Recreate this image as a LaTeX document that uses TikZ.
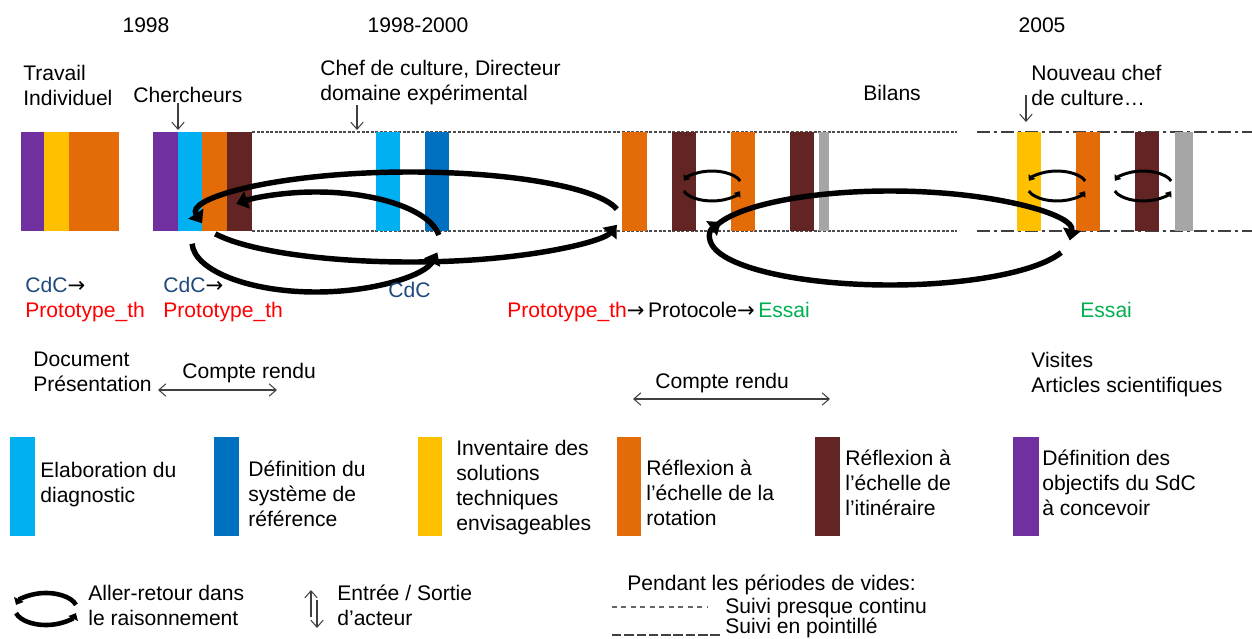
\documentclass[tikz,border=0pt]{standalone}
\usepackage{fontspec}
\setmainfont{Liberation Sans}
\newfontfamily\arrowfont{DejaVu Sans}
\usetikzlibrary{arrows.meta,positioning}

\definecolor{cPurple}{HTML}{7030A0}
\definecolor{cYellow}{HTML}{FFC000}
\definecolor{cOrange}{HTML}{E36C09}
\definecolor{cBrown}{HTML}{632523}
\definecolor{cCyan}{HTML}{00B0F0}
\definecolor{cBlue}{HTML}{0070C0}
\definecolor{cGray}{HTML}{A6A6A6}
\definecolor{cdcBlue}{HTML}{1F497D}
\definecolor{essaiGreen}{HTML}{00B050}

\begin{document}
\begin{tikzpicture}[
    x=0.02cm, y=-0.02cm,
    font=\fontsize{12}{14.2}\selectfont,
    lbl/.style={anchor=north west, inner sep=0pt, align=left},
    ctr/.style={anchor=north, inner sep=0pt},
    actor/.style={draw=black!75, line width=0.6pt, -{Straight Barb[length=4pt,width=7pt]}},
    report/.style={draw=black!75, line width=0.6pt,
                   {Straight Barb[length=4pt,width=7pt]}-{Straight Barb[length=4pt,width=7pt]}},
    suivi/.style={draw=black!70, line width=0.6pt, dash pattern=on 1.7pt off 0.9pt},
    pointille/.style={draw=black!75, line width=0.7pt, dash pattern=on 7.4pt off 2.3pt on 1.7pt off 2.3pt},
    bigloop/.style={line width=3.1pt, -{Triangle[length=6.5pt,width=10pt]}},
    smallloop/.style={line width=1.7pt, -{Triangle[length=3pt,width=4.5pt]}}
]
\useasboundingbox (0,0) rectangle (1252,639);

% 1) follow-up lines during the gaps
\draw[suivi] (252,132) -- (957,132);
\draw[suivi] (252,231) -- (957,231);
\draw[pointille] (977,132) -- (1252,132);
\draw[pointille] (977,231) -- (1252,231);

% 2) timeline bars
\foreach \xa/\xb/\col in {21/44/cPurple, 44/69/cYellow, 69/119/cOrange,
    153/178/cPurple, 178/202/cCyan, 202/227/cOrange, 227/252/cBrown,
    376/400/cCyan, 425/449/cBlue,
    622/647/cOrange, 672/696/cBrown, 731/755/cOrange, 790/814/cBrown, 819/829/cGray,
    1017/1041/cYellow, 1076/1100/cOrange, 1135/1159/cBrown, 1175/1193/cGray}
  \fill[\col] (\xa,132) rectangle (\xb,231);

% 3) years and actors
\node[ctr] (y1998) at (146,17) {1998};
\node[ctr] (y9800) at (418,17) {1998-2000};
\node[ctr] (y2005) at (1042,17) {2005};

\node[lbl] (travail) at (23,65) {Travail\\Individuel};
\node[lbl] (cherch) at (133,87) {Chercheurs};
\node[lbl] (chef) at (320,60) {Chef de culture, Directeur\\domaine expérimental};
\node[lbl] (bilans) at (863,85) {Bilans};
\node[lbl] (nouveau) at (1031,65) {Nouveau chef\\de culture…};

\coordinate (inCh) at (178,130);
\coordinate (inChef) at (357,130);
\coordinate (inNcTop) at (1026,95);
\coordinate (inNc) at (1026,122);
\draw[actor] (inCh |- cherch.south) -- (inCh);
\draw[actor] (inChef |- chef.south) -- (inChef);
\draw[actor] (inNcTop) -- (inNc);

% 4) back-and-forth loops
\draw[bigloop] (316,242) ++(-8:124 and 50) arc[start angle=-8, end angle=-130, x radius=124, y radius=50];
\draw[bigloop] (316,242) ++(178:124 and 50) arc[start angle=178, end angle=12, x radius=124, y radius=50];
\draw[bigloop] (410,217) ++(-10:210 and 45) arc[start angle=-10, end angle=-188, x radius=210, y radius=45];
\draw[bigloop] (410,217) ++(158:210 and 45) arc[start angle=158, end angle=10, x radius=210, y radius=45];
\draw[bigloop] (890,238) ++(-172:180 and 47) arc[start angle=-172, end angle=3, x radius=180, y radius=47];
\draw[bigloop] (890,238) ++(18:180 and 47) arc[start angle=18, end angle=200, x radius=180, y radius=47];
\foreach \cx/\cy in {712/186, 1057/186, 1143/186} {
  \draw[smallloop] (\cx,\cy) ++(-20:30 and 15) arc[start angle=-20, end angle=-160, x radius=30, y radius=15];
  \draw[smallloop] (\cx,\cy) ++(160:30 and 15) arc[start angle=160, end angle=20, x radius=30, y radius=15];
}

% 5) products
\node[lbl] (cdc1) at (25,277) {\textcolor{cdcBlue}{CdC}{\arrowfont →}\\\textcolor{red}{Prototype\_th}};
\node[lbl] (cdc2) at (163,277) {\textcolor{cdcBlue}{CdC}{\arrowfont →}\\\textcolor{red}{Prototype\_th}};
\node[lbl] (cdc3) at (388,282) {\textcolor{cdcBlue}{CdC}};
\node[lbl] (proto) at (507,302) {\textcolor{red}{Prototype\_th}{\arrowfont →}\kern2pt Protocole{\arrowfont →}\kern2pt\textcolor{essaiGreen}{Essai}};
\node[lbl] (essai) at (1080,302) {\textcolor{essaiGreen}{Essai}};

\node[lbl] (docu) at (33,352) {Document\\Présentation};
\node[lbl] (cr1) at (182,363) {Compte rendu};
\node[lbl] (cr2) at (655,373) {Compte rendu};
\node[lbl] (visites) at (1031,352) {Visites\\Articles scientifiques};
\coordinate (cr1a) at (158,390);
\coordinate (cr1b) at (277,390);
\coordinate (cr2a) at (633,399);
\coordinate (cr2b) at (830,399);
\draw[report] (cr1a) -- (cr1b);
\draw[report] (cr2a) -- (cr2b);

% 6) colour legend
\foreach \xa/\xb/\col in {10/35/cCyan, 214/239/cBlue, 418/442/cYellow,
    617/641/cOrange, 815/840/cBrown, 1013/1039/cPurple}
  \fill[\col] (\xa,437) rectangle (\xb,536);
\node[lbl] (lgDiag) at (40,462) {Elaboration du\\diagnostic};
\node[lbl] (lgRef) at (248,461) {Définition du\\système de\\référence};
\node[lbl] (lgInv) at (456,440) {Inventaire des\\solutions\\techniques\\envisageables};
\node[lbl] (lgRot) at (646,460) {Réflexion à\\l’échelle de la\\rotation};
\node[lbl] (lgItin) at (845,450) {Réflexion à\\l’échelle de\\l’itinéraire};
\node[lbl] (lgObj) at (1042,450) {Définition des\\objectifs du SdC\\à concevoir};

% 7) symbol legend
\draw[line width=2.6pt, -{Triangle[length=3.5pt,width=6pt]}] (46,609) ++(-15:31 and 16) arc[start angle=-15, end angle=-165, x radius=31, y radius=16];
\draw[line width=2.6pt, -{Triangle[length=3.5pt,width=6pt]}] (46,609) ++(165:31 and 16) arc[start angle=165, end angle=15, x radius=31, y radius=16];
\node[lbl] (lgLoop) at (88,585) {Aller-retour dans\\le raisonnement};

\coordinate (upA) at (311,617);
\coordinate (upB) at (311,590);
\coordinate (dnA) at (317,600);
\coordinate (dnB) at (317,628);
\draw[actor] (upA) -- (upB);
\draw[actor] (dnA) -- (dnB);
\node[lbl] (lgActor) at (337,585) {Entrée / Sortie\\d’acteur};

\node[lbl] (vides) at (627,575) {Pendant les périodes de vides:};
\coordinate (sc1) at (612,607);
\coordinate (sc2) at (708,607);
\coordinate (sp1) at (612,635);
\coordinate (sp2) at (722,635);
\draw[draw=black!60, line width=0.6pt, dash pattern=on 2.8pt off 2.6pt] (sc1) -- (sc2);
\draw[draw=black!75, line width=0.7pt, dash pattern=on 5.4pt off 1.6pt] (sp1) -- (sp2);
\node[lbl] (continu) at (725,598) {Suivi presque continu};
\node[lbl] (pointil) at (725,618) {Suivi en pointillé};
\end{tikzpicture}
\end{document}
